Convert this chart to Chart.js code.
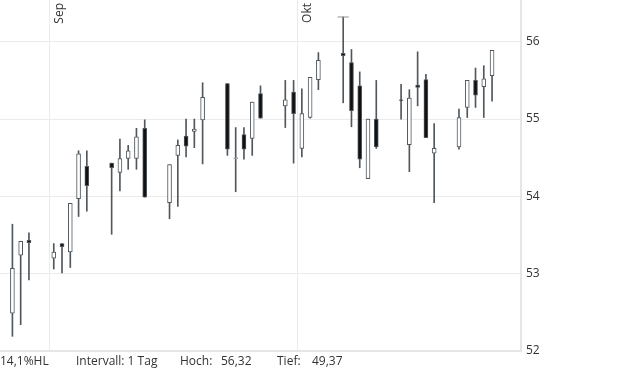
<!DOCTYPE html>
<html>
<head>
<meta charset="utf-8">
<script src="https://cdn.jsdelivr.net/npm/chart.js@4"></script>
<style>
html, body { margin:0; padding:0; background:#fff; }
#wrap { position:relative; width:620px; height:372px; font-family:'Open Sans', sans-serif; }
#stats span { position:absolute; top:355px; font-size:12px; line-height:12px; color:#333; white-space:nowrap; }
</style>
</head>
<body>
<div id="wrap">
  <canvas id="chart" width="620" height="372"></canvas>
  <div id="stats"></div>
</div>
<script>
// daily OHLC
const dates  = ['2025-08-27','2025-08-28','2025-08-29',
  '2025-09-01','2025-09-02','2025-09-03','2025-09-04','2025-09-05',
  '2025-09-08','2025-09-09','2025-09-10','2025-09-11','2025-09-12',
  '2025-09-15','2025-09-16','2025-09-17','2025-09-18','2025-09-19',
  '2025-09-22','2025-09-23','2025-09-24','2025-09-25','2025-09-26',
  '2025-09-29','2025-09-30','2025-10-01','2025-10-02','2025-10-03',
  '2025-10-06','2025-10-07','2025-10-08','2025-10-09','2025-10-10',
  '2025-10-13','2025-10-14','2025-10-15','2025-10-16','2025-10-17',
  '2025-10-20','2025-10-21','2025-10-22','2025-10-23','2025-10-24'];
const opens  = [52.49,53.24,53.43, 53.20,53.39,53.28,53.97,54.39, 54.43,54.31,54.49,54.49,54.88,
  53.92,54.53,54.78,54.84,54.99, 55.46,54.49,54.80,54.75,55.33, 55.17,55.35,54.62,55.02,55.51,
  55.85,55.73,55.43,54.23,55.00, 55.25,54.67,55.44,55.51,54.56, 54.64,55.15,55.50,55.42,55.56];
const highs  = [53.64,53.42,53.53, 53.39,53.39,53.91,54.59,54.59, 54.43,54.74,54.66,54.88,54.99,
  54.41,54.73,55.00,55.00,55.47, 55.46,54.89,54.89,55.22,55.43, 55.50,55.50,55.39,55.54,55.86,
  56.32,55.90,55.61,55.00,55.50, 55.45,55.38,55.87,55.58,54.94, 55.13,55.50,55.66,55.69,55.89];
const lows   = [52.19,52.34,52.92, 53.06,53.01,53.08,53.74,53.81, 53.51,54.07,54.35,54.35,53.99,
  53.71,53.87,54.51,54.63,54.42, 54.53,54.06,54.48,54.53,55.01, 54.89,54.43,54.51,55.01,55.38,
  55.21,54.90,54.37,54.23,54.62, 55.00,54.32,55.17,54.76,53.92, 54.61,55.02,55.15,55.02,55.23];
const closes = [53.07,53.42,53.40, 53.28,53.35,53.91,54.55,54.14, 54.37,54.49,54.59,54.77,53.99,
  54.41,54.66,54.65,54.87,55.28, 54.61,54.50,54.61,55.22,55.01, 55.25,55.07,55.07,55.54,55.76,
  55.82,55.11,54.48,55.00,54.64, 55.24,55.27,55.41,54.76,54.62, 55.02,55.50,55.31,55.52,55.89];

const yTicks = [52, 53, 54, 55, 56];
const monthDates  = ['2025-09-01', '2025-10-01'];
const monthLabels = ['Sep', 'Okt'];
const highDate = '2025-10-06';
const highValue = 56.32;
const statTexts = ['14,1%HL', 'Intervall: 1 Tag', 'Hoch:', '56,32', 'Tief:', '49,37'];

// layout bits
const statLeft = [0, 76, 180, 221, 277, 312];
const wickColor = '#50585e';

const dayIndex = d => (Date.parse(d + 'T00:00:00Z') - Date.parse('2025-09-01T00:00:00Z')) / 864e5;

// bottom stats line
const stats = document.getElementById('stats');
statTexts.forEach((t, i) => {
  const s = document.createElement('span');
  s.textContent = t;
  s.style.left = statLeft[i] + 'px';
  stats.appendChild(s);
});

const wickData = dates.map((d, i) => ({ x: dayIndex(d) + 0.5, y: [lows[i], highs[i]] }));
const bodyData = dates.map((d, i) => ({ x: dayIndex(d) + 0.5, y: [opens[i], closes[i]] }));
const bodyFill = dates.map((d, i) => closes[i] < opens[i] ? '#111' : '#fff');

// rotated month names inside the plot
const monthLabelPlugin = {
  id: 'monthLabels',
  afterDraw(chart){
    const ctx = chart.ctx, xs = chart.scales.x;
    ctx.save();
    ctx.font = '12px "Open Sans"';
    ctx.fillStyle = '#333';
    ctx.textAlign = 'right';
    ctx.textBaseline = 'alphabetic';
    monthDates.forEach((d, i) => {
      const px = xs.getPixelForValue(dayIndex(d));
      ctx.save();
      ctx.translate(px + 13.5, 3);
      ctx.rotate(-Math.PI / 2);
      ctx.fillText(monthLabels[i], 0, 0);
      ctx.restore();
    });
    ctx.restore();
  }
};

Chart.defaults.font.family = "'Open Sans', sans-serif";
Chart.defaults.font.size = 12;
Chart.defaults.color = '#333';

new Chart(document.getElementById('chart'), {
  type: 'bar',
  data: {
    datasets: [
      { label: 'wick', data: wickData, backgroundColor: wickColor, barThickness: 1,
        grouped: false, order: 3, borderWidth: 0 },
      { label: 'body', data: bodyData, backgroundColor: bodyFill, borderColor: wickColor,
        borderWidth: 1, borderSkipped: false, barThickness: 4, grouped: false, order: 2 },
      { type: 'line', label: 'high', data: [{ x: dayIndex(highDate) + 0.5, y: highValue }],
        showLine: false, pointStyle: 'line', pointRadius: 5.5, pointBorderColor: '#8f8f8f',
        pointBorderWidth: 1, order: 1, clip: false }
    ]
  },
  options: {
    responsive: false,
    animation: false,
    layout: { autoPadding: false, padding: { top: 0, left: 0, right: 0, bottom: 21 } },
    plugins: { legend: { display: false }, tooltip: { enabled: false } },
    scales: {
      x: {
        type: 'linear', min: -6, max: 57, offset: false,
        grid: { offset: false, color: '#ebebeb', drawTicks: false },
        border: { display: true, color: '#e6e6e6', width: 2 },
        ticks: { display: false },
        afterBuildTicks: s => { s.ticks = monthDates.map(d => ({ value: dayIndex(d) })); },
        afterFit: s => { s.height = 0; s.paddingLeft = 0; s.paddingRight = 0; }
      },
      y: {
        position: 'right', min: 52, max: 56.54,
        grid: { color: '#ebebeb', drawTicks: false },
        border: { display: true, color: '#e6e6e6', width: 2 },
        ticks: { padding: 5, color: '#333', font: { size: 12 } },
        afterBuildTicks: s => { s.ticks = yTicks.map(v => ({ value: v })); },
        afterFit: s => { s.width = 99; s.paddingTop = 0; s.paddingBottom = 0; }
      }
    }
  },
  plugins: [monthLabelPlugin]
});
</script>
</body>
</html>
